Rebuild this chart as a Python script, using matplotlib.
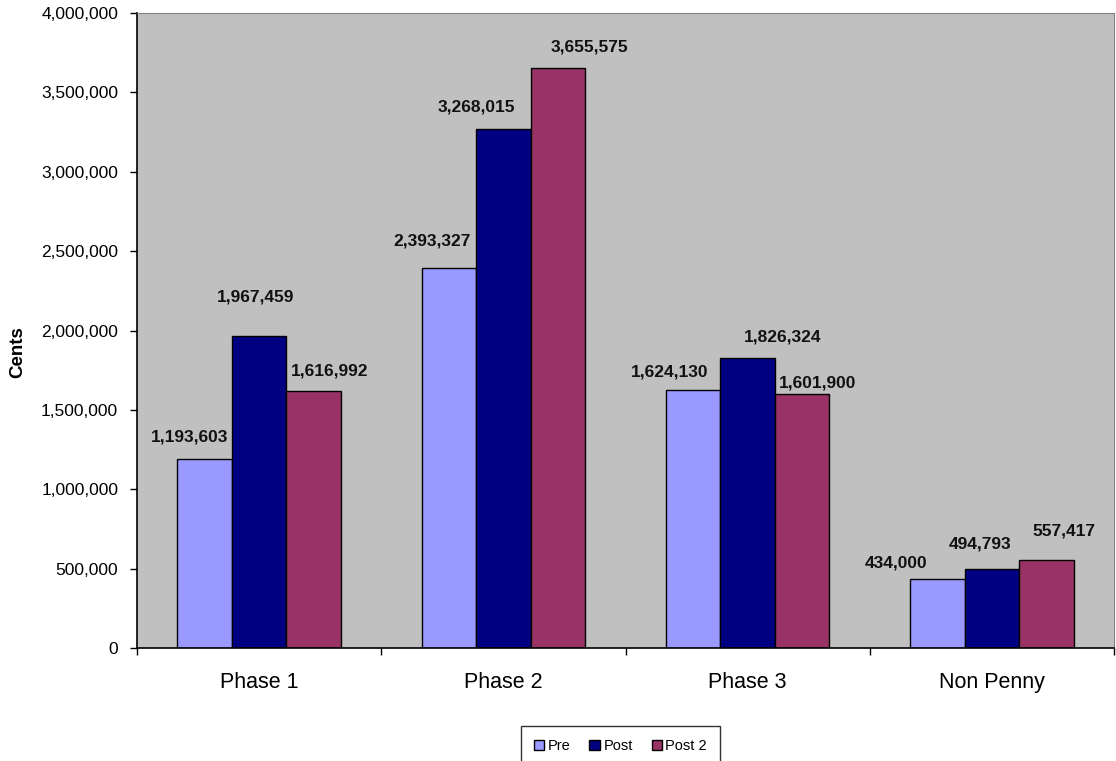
import matplotlib
matplotlib.use("Agg")
import matplotlib.pyplot as plt
import numpy as np
from matplotlib.ticker import FuncFormatter, MultipleLocator

categories = ["Phase 1", "Phase 2", "Phase 3", "Non Penny"]
series_names = ["Pre", "Post", "Post 2"]
pre = [1193603, 2393327, 1624130, 434000]
post = [1967459, 3268015, 1826324, 494793]
post2 = [1616992, 3655575, 1601900, 557417]

colors = ["#9999FF", "#000080", "#993366"]

# label offsets in pixels (dx, dy) per series per category
label_offsets = [
    [(-15, 22), (-17, 27), (-24, 18), (-41, 16)],
    [(-4, 39), (-27, 22), (35, 21), (-12, 25)],
    [(16, 20), (32, 21), (15, 11), (18, 29)],
]

plt.rcParams['font.family'] = ['Liberation Sans', 'DejaVu Sans']

fig = plt.figure(figsize=(11.16, 7.61), dpi=100)
ax = fig.add_axes([137/1116, 1-648/761, (1114-137)/1116, (648-13)/761])
ax.set_facecolor("#C0C0C0")

x = np.arange(len(categories))
w = 0.223
all_series = [pre, post, post2]
for i, (vals, name, c) in enumerate(zip(all_series, series_names, colors)):
    bars = ax.bar(x + (i - 1) * w, vals, w, color=c, edgecolor="black", linewidth=1.0,
                  label=name, zorder=2)
    for j, (b, v) in enumerate(zip(bars, vals)):
        dx, dy = label_offsets[i][j]
        ax.annotate(f"{v:,}", (b.get_x() + b.get_width()/2, v),
                    xytext=(dx, dy), textcoords="offset pixels",
                    ha="center", va="center", fontsize=12.5, fontweight="bold",
                    color="#111111")

ax.set_xlim(-0.5, len(categories) - 0.5)
ax.set_ylim(0, 4000000)
ax.yaxis.set_major_locator(MultipleLocator(500000))
ax.yaxis.set_major_formatter(FuncFormatter(lambda v, p: f"{int(v):,}"))
ax.tick_params(axis="y", labelsize=12.5, direction="out", length=5, width=1,
               colors="black", pad=8.5)

ax.set_xticks(np.arange(-0.5, len(categories), 1.0))
ax.set_xticklabels([])
ax.set_xticks(x, minor=True)
ax.set_xticklabels(categories, minor=True, fontsize=15.5)
ax.tick_params(axis="x", which="major", direction="out", length=5, width=1)
ax.tick_params(axis="x", which="minor", length=0, pad=17)

ax.spines["left"].set_color("black")
ax.spines["bottom"].set_color("black")
ax.spines["top"].set_color("#808080")
ax.spines["right"].set_color("#808080")
ax.spines["left"].set_linewidth(1.2)
ax.spines["bottom"].set_linewidth(1.2)

ax.set_ylabel("Cents", fontsize=13.5, fontweight="bold")
ax.yaxis.set_label_coords((26.5 - 137) / 977, (648 - 352) / 635)

leg = fig.legend(loc="center", bbox_to_anchor=(620.5/1116, 1-746/761), ncol=3,
                 fontsize=10.5, frameon=True, fancybox=False, edgecolor="black",
                 handlelength=0.7, handleheight=0.7, handletextpad=0.25,
                 columnspacing=1.3, borderpad=0.9, borderaxespad=0)
leg.get_frame().set_linewidth(1.0)

fig.savefig("out.png", dpi=100)
